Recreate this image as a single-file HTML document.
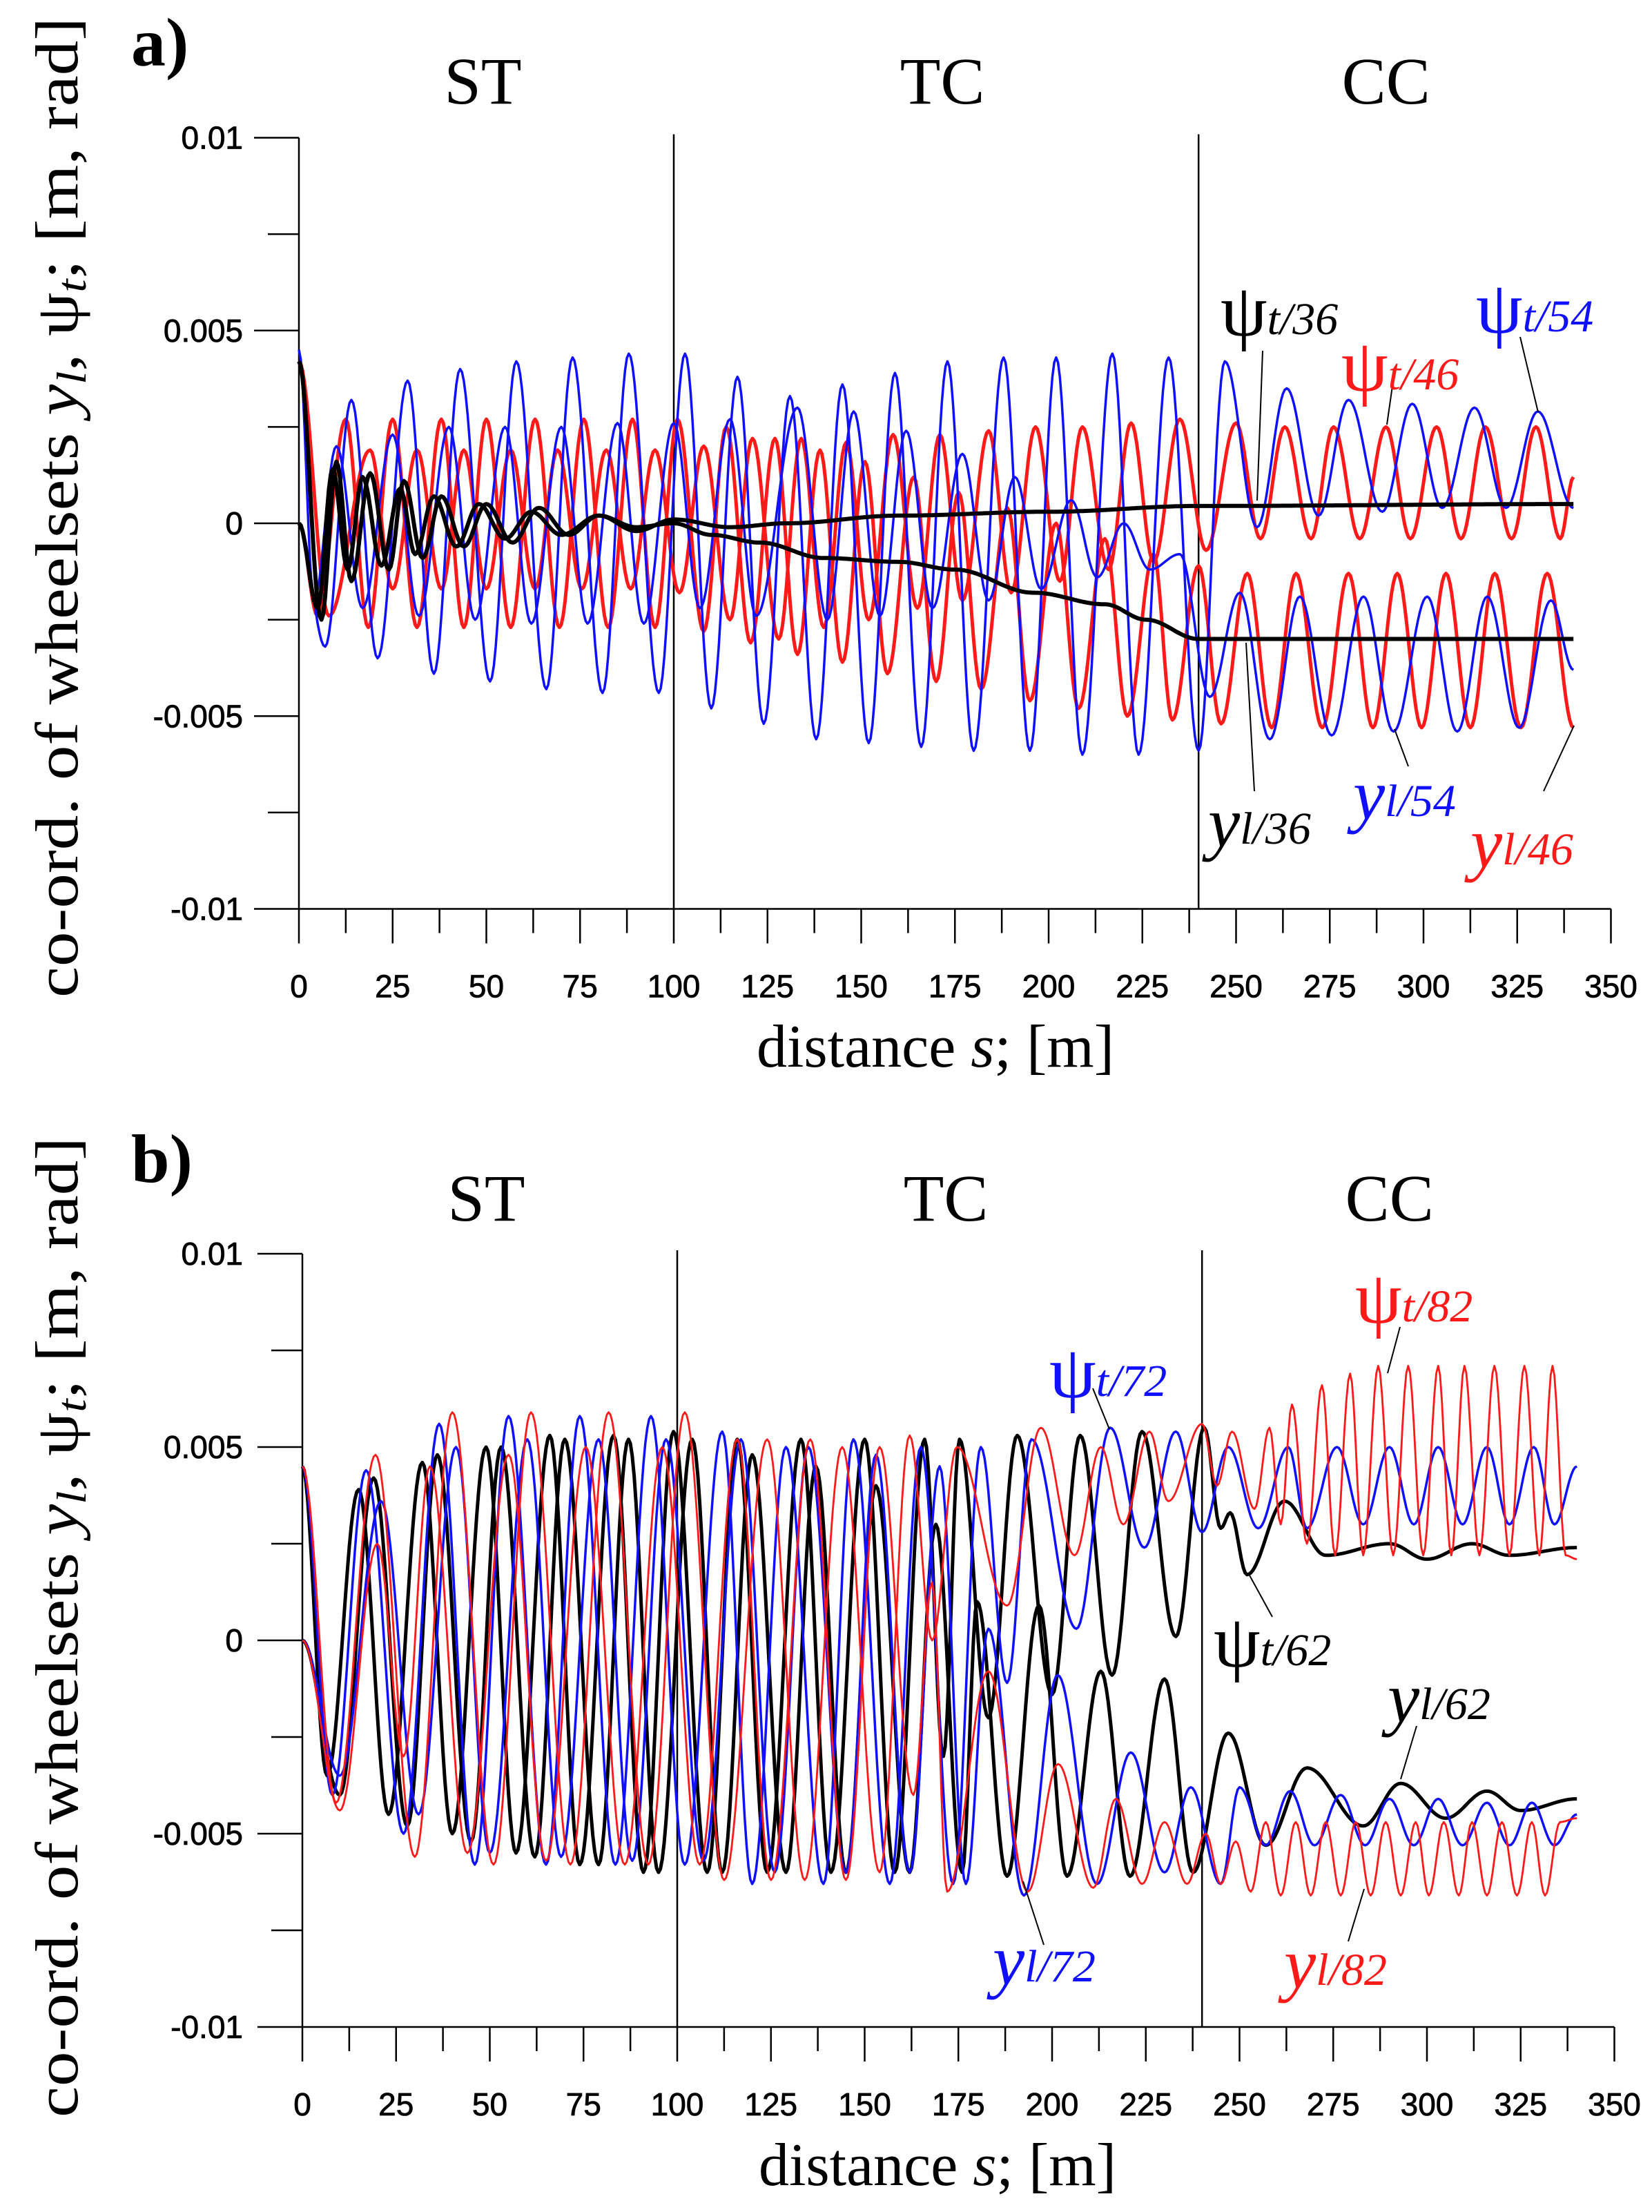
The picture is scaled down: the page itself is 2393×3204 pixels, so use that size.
<!DOCTYPE html>
<html><head><meta charset="utf-8"><style>
html,body{margin:0;padding:0;background:#fff;}
svg{display:block;}
</style></head><body>
<svg id="fig" xmlns="http://www.w3.org/2000/svg" width="2393" height="3204" viewBox="0 0 2393 3204">
<rect x="0" y="0" width="2393" height="3204" fill="#fff"/>
<g id="chartA"></g>
<g id="chartB"></g>
</svg>
<script>
// ---------- shared axis data ----------
const xTicks = [0,25,50,75,100,125,150,175,200,225,250,275,300,325,350];
const yTicks = [0.01,0.005,0,-0.005,-0.01];
const yTickLabels = ["0.01","0.005","0","-0.005","-0.01"];
const regionBounds = [100,240];
const regionNames = ["ST","TC","CC"];
const regionCenters = [50,170,290];

// ---------- chart a series (extrema: distance s, value) ----------
const a_psi54_s=[0,7,14,21,29,36,43,51,58,66,73,81,88,96,103,110,117,124,131,138,145,152,159,166,173,180,188,195,202,209,217,224,232,240,247,255.6,263.5,272,280,289,297,305,313.6,322,330.5,340];
const a_psi54_v=[0,-0.0032,0.0032,-0.0035,0.0037,-0.0039,0.004,-0.0041,0.0042,-0.0043,0.0043,-0.0044,0.0044,-0.0044,0.0044,-0.0048,0.0038,-0.0052,0.0033,-0.0056,0.0036,-0.0057,0.0039,-0.0058,0.0042,-0.0059,0.0043,-0.0059,0.0043,-0.006,0.0044,-0.006,0.0043,-0.0059,0.0042,-0.0001,0.0035,0.0002,0.0032,0.0003,0.0031,0.0004,0.003,0.0004,0.0029,0.0004];
const a_yl54_s=[0,4,10,17,25,32,40,47,55,62,70,77,85,92,100,107,115,122,133,141,148,155,162,169,177,184,191,198,206,213,220,227,235,243,251,259,267,275.5,284,292,301,309,317,325.5,334,340];
const a_yl54_v=[0.0045,-0.002,0.002,-0.0022,0.0023,-0.0024,0.0025,-0.0025,0.0025,-0.0026,0.0025,-0.0026,0.0026,-0.0026,0.0026,-0.0022,0.0027,-0.0024,0.003,-0.0025,0.0029,-0.0024,0.0024,-0.0022,0.0018,-0.002,0.0012,-0.0017,0.0006,-0.0014,0,-0.0012,-0.0008,-0.0045,-0.0018,-0.0056,-0.0019,-0.0055,-0.0019,-0.0054,-0.0019,-0.0054,-0.0019,-0.0053,-0.002,-0.0038];
const a_yl46_s=[0,5,12.5,18.5,25,31.5,38,44,50,56.5,63,69.5,76,82.5,89,95,101,108,114,120.5,127,133,139,145,151,157,164,170,176,182,189,195,202,208,215,221,228,233,240,246,253,259.5,266,273,280,286.5,293,299.5,306,312.5,319,326,333,340];
const a_yl46_v=[0,-0.0024,0.0027,-0.0027,0.0027,-0.0027,0.0027,-0.0027,0.0027,-0.0027,0.0027,-0.0027,0.0027,-0.0027,0.0027,-0.0027,0.0027,-0.0028,0.0025,-0.0031,0.0022,-0.0034,0.0019,-0.0036,0.0016,-0.0039,0.0012,-0.0041,0.0008,-0.0043,0.0004,-0.0046,0,-0.0048,-0.0004,-0.005,-0.0008,-0.0051,-0.0011,-0.0052,-0.0013,-0.0053,-0.0013,-0.0053,-0.0013,-0.0053,-0.0013,-0.0053,-0.0013,-0.0053,-0.0013,-0.0053,-0.0013,-0.0053];
const a_psi46_s=[0,8,19,25,31.5,38,44,50,56.5,63,69,75.5,82,88.5,95,101.5,108,115,121,128,134,140,146,152,158.5,165,171,177,184,190,196.5,203,209,216,222,228,235,242,250,256.5,263,270,276,283,290,296.5,303.5,310,316.5,323.5,330,336.5,340];
const a_psi46_v=[0.0042,-0.0024,0.0019,-0.0017,0.0019,-0.0017,0.0019,-0.0017,0.0019,-0.0017,0.0019,-0.0017,0.0019,-0.0017,0.0019,-0.0018,0.002,-0.0025,0.0022,-0.003,0.0022,-0.0027,0.0021,-0.0025,0.0023,-0.0022,0.0023,-0.002,0.0024,-0.0018,0.0025,-0.0015,0.0025,-0.0012,0.0026,-0.001,0.0027,-0.0007,0.0026,-0.0004,0.0025,-0.0004,0.0025,-0.0004,0.0025,-0.0004,0.0025,-0.0004,0.0025,-0.0004,0.0025,-0.0004,0.0012];
const a_psi36_s=[0,6,10,14,19,24,28,33,38,44,50,57,64,72,80,90,100,115,130,160,200,240,340];
const a_psi36_v=[0.0042,-0.0025,0.0016,-0.0015,0.0013,-0.0012,0.0011,-0.0009,0.0007,-0.0006,0.0005,-0.0005,0.0004,-0.0003,0.0002,-0.0002,0.0001,-0.0001,0,0.0002,0.0003,0.00045,0.0005];
const a_yl36_s=[0,5,9,13,17,22,27,31,36,42,48,55,62,70,80,90,100,110,123,140,160,175,196,215,226,240,340];
const a_yl36_v=[0,-0.0022,0.0014,-0.0012,0.0012,-0.0011,0.0009,-0.0008,0.0007,-0.0006,0.0005,-0.0004,0.0003,-0.0003,0.0002,-0.0001,0,-0.0003,-0.0005,-0.0009,-0.001,-0.0012,-0.0018,-0.0021,-0.0025,-0.003,-0.003];

// ---------- chart b series ----------
const b_psi82_s=[0,9,19.5,30,40,51,61,71.5,81.7,92.3,102,112.5,124,134,144,154,162,168,174.6,188,197,206,213,219,226,231,240,244,248,254,258,261,264,268,272,275.5,279.5,283,287,291,295,299,303,306.5,310,314,318,322,326,330,333.5,337,340];
const b_psi82_v=[0.0045,-0.0042,0.0048,-0.0056,0.0059,-0.0058,0.0059,-0.0058,0.0059,-0.0058,0.0059,-0.0062,0.0052,-0.0062,0.005,-0.006,0.0053,0,0.005,0.0009,0.0055,0.0022,0.005,0.003,0.0054,0.0036,0.0056,0.004,0.0054,0.0034,0.0055,0.003,0.0061,0.0025,0.0066,0.0022,0.0069,0.0022,0.0071,0.0022,0.0071,0.0022,0.0071,0.0022,0.0071,0.0022,0.0071,0.0022,0.0071,0.0022,0.0071,0.0022,0.0021];
const b_yl82_s=[0,10,20,27,34,44,55,65,75.6,86,96,106,116,125,135.5,145,154,163,168,172,183,193.5,201.6,211,217,224,230,236,241,245,249,253,257,261,265,269,273,277,281,285,289,293,297,300.5,304.5,308.5,312,316,320,324,328,331.5,335.5,340];
const b_yl82_v=[0,-0.0044,0.0025,-0.003,0.0045,-0.0055,0.0048,-0.0057,0.005,-0.0058,0.005,-0.0058,0.0052,-0.0062,0.0052,-0.0062,0.005,-0.004,0.0015,-0.0065,-0.0008,-0.0065,-0.0032,-0.0064,-0.0041,-0.0063,-0.0047,-0.0063,-0.005,-0.0063,-0.0052,-0.0065,-0.0047,-0.0066,-0.0047,-0.0066,-0.0047,-0.0066,-0.0047,-0.0066,-0.0047,-0.0066,-0.0047,-0.0066,-0.0047,-0.0066,-0.0047,-0.0066,-0.0047,-0.0066,-0.0047,-0.0066,-0.0047,-0.0046];
const b_psi72_s=[0,8,17,27,36.5,46,55,65,74,83.5,93,102,112,120,129,139,147,156.7,165,173.6,181,188,194.5,206.5,215.5,224.6,233,240,247,255,263,268,276,283,290,296.5,303,309.5,316,322,328.5,334,340];
const b_psi72_v=[0.0045,-0.004,0.0044,-0.005,0.0056,-0.0058,0.0058,-0.0058,0.0058,-0.0058,0.0058,-0.0058,0.0054,-0.0063,0.005,-0.0063,0.0052,-0.0063,0.005,-0.0063,0.005,-0.0011,0.0052,0.0003,0.0055,0.0024,0.0054,0.0028,0.005,0.0029,0.005,0.0029,0.005,0.003,0.005,0.003,0.005,0.003,0.005,0.003,0.005,0.003,0.0045];
const b_yl72_s=[0,10,21,31,41,50,60,69,79,88,97,107,117,126,135,145,153,162,170,177,183,192.5,201.5,212,221,230,237,245,250,257,263.5,270,277,283.5,290,296.5,303,309.5,316,322,328,334,340];
const b_yl72_v=[0,-0.0035,0.0036,-0.0045,0.005,-0.0055,0.0052,-0.0056,0.0052,-0.0057,0.0052,-0.0057,0.0052,-0.006,0.005,-0.006,0.0048,-0.006,0.0045,-0.0063,0.0003,-0.0066,-0.0009,-0.0063,-0.0029,-0.006,-0.0038,-0.0063,-0.0038,-0.0053,-0.0039,-0.0053,-0.004,-0.0053,-0.0041,-0.0053,-0.0041,-0.0053,-0.0042,-0.0053,-0.0042,-0.0053,-0.0045];
const b_psi62_s=[0,6.6,15,23,32,40,49,57,66,74,83,91,99,108,116,124,133,141,150,158,166,171,175.3,183,190.7,200,207.5,216,224,233,240.6,245,247.5,252,262,273,290,300,312,322,340];
const b_psi62_v=[0.0045,-0.0035,0.0039,-0.0045,0.0046,-0.005,0.005,-0.0055,0.0053,-0.0058,0.0053,-0.006,0.0054,-0.006,0.0052,-0.006,0.0052,-0.006,0.0052,-0.006,0.0052,-0.003,0.0052,-0.002,0.0053,-0.0014,0.0053,-0.0009,0.0054,0.0001,0.0055,0.0029,0.0033,0.0017,0.0036,0.0022,0.0025,0.0021,0.0025,0.0022,0.0024];
const b_yl62_s=[0,10,19,28,36,45,53,62,70,79,87,95,104,112,120,129,137,145,153,162,169,176,180,188,196.5,204,213,220.8,230,237.6,247,257,268,283,293,305,316,325,340];
const b_yl62_v=[0,-0.004,0.0042,-0.0048,0.0048,-0.0052,0.005,-0.0056,0.0052,-0.0058,0.0052,-0.006,0.0052,-0.006,0.0048,-0.006,0.0045,-0.006,0.004,-0.006,0.003,-0.006,0.001,-0.0061,0.0009,-0.0061,-0.0008,-0.0061,-0.001,-0.006,-0.0024,-0.0053,-0.0033,-0.0048,-0.0037,-0.0046,-0.0039,-0.0044,-0.0041];

const NS="http://www.w3.org/2000/svg";
function mk(tag, parent){ const e=document.createElementNS(NS,tag); parent.appendChild(e); return e; }

function buildChart(g, cfg, series, labels, leaders){
  const X = s => cfg.x0 + s*cfg.pxPerM;
  const Y = v => cfg.y0 - v*cfg.pxPerUnit;
  const yTop=Y(0.01), yBot=Y(-0.01);
  let t=mk('text',g);
  
  
  t.setAttribute('x',cfg.panelX); t.setAttribute('y',cfg.panelY);
  t.setAttribute('font-family','Liberation Serif, serif'); t.setAttribute('font-weight','bold'); t.setAttribute('font-size','100');
  t.textContent=cfg.panel;
  regionNames.forEach((n,i)=>{
    const r=mk('text',g);
    
    
    r.setAttribute('x',X(regionCenters[i])+cfg.regionDx[i]); r.setAttribute('y',cfg.regionY);
    r.setAttribute('text-anchor','middle'); r.setAttribute('font-family','Liberation Serif, serif'); r.setAttribute('font-size','96');
    r.textContent=n;
  });
  const yt=mk('text',g);
  
  
  yt.setAttribute('transform','translate(112,'+cfg.yTitleY+') rotate(-90)');
  yt.setAttribute('text-anchor','middle'); yt.setAttribute('font-family','Liberation Serif, serif'); yt.setAttribute('font-size','88');
  yt.setAttribute('textLength','1420'); yt.setAttribute('lengthAdjust','spacingAndGlyphs');
  yt.innerHTML='co-ord. of wheelsets <tspan font-style="italic">y</tspan><tspan font-style="italic" font-size="60" dy="12">l</tspan><tspan dy="-12">, ψ</tspan><tspan font-style="italic" font-size="60" dy="12">t</tspan><tspan dy="-12">; [m, rad]</tspan>';
  const xt=mk('text',g);
  
  
  xt.setAttribute('x',cfg.xTitleX); xt.setAttribute('y',cfg.xTitleY);
  xt.setAttribute('text-anchor','middle'); xt.setAttribute('font-family','Liberation Serif, serif'); xt.setAttribute('font-size','88');
  xt.innerHTML='distance <tspan font-style="italic">s</tspan>; [m]';
  const ax=mk('path',g);
  
  
  let d='M'+X(0)+','+yTop+' L'+X(0)+','+yBot+' M'+(X(0)-65)+','+yBot+' L'+X(350)+','+yBot;
  for(let k=-4;k<=4;k++){ const v=k*0.0025; const major=(k%2===0); d+=' M'+(X(0)-(major?65:45))+','+Y(v)+' L'+X(0)+','+Y(v); }
  for(let s=0;s<=350;s+=12.5){ const major=(s%25===0); d+=' M'+X(s)+','+yBot+' L'+X(s)+','+(yBot+(major?50:35)); }
  regionBounds.forEach(b=>{ d+=' M'+X(b)+','+(yTop-5)+' L'+X(b)+','+yBot; });
  ax.setAttribute('d',d); ax.setAttribute('stroke','#000'); ax.setAttribute('stroke-width','2.5'); ax.setAttribute('fill','none');
  yTicks.forEach((v,i)=>{
    const l=mk('text',g);
    
    
    l.setAttribute('x',352); l.setAttribute('y',Y(v)+16);
    l.setAttribute('text-anchor','end'); l.setAttribute('font-family','Liberation Sans, sans-serif'); l.setAttribute('font-size','46');
    l.setAttribute('stroke','#000'); l.setAttribute('stroke-width','0.8');
    l.textContent=yTickLabels[i];
  });
  xTicks.forEach(s=>{
    const l=mk('text',g);
    
    
    l.setAttribute('x',X(s)); l.setAttribute('y',yBot+128);
    l.setAttribute('text-anchor','middle'); l.setAttribute('font-family','Liberation Sans, sans-serif'); l.setAttribute('font-size','46');
    l.setAttribute('stroke','#000'); l.setAttribute('stroke-width','0.8');
    l.textContent=String(s);
  });
  series.forEach(sr=>{
    const S=sr.s, V=sr.v;
    let pd='';
    for(let i=0;i<S.length-1;i++){
      const s0=S[i], s1=S[i+1], v0=V[i], v1=V[i+1];
      const n=Math.max(4,Math.ceil((s1-s0)*2));
      for(let j=(i===0?0:1);j<=n;j++){
        const t=j/n; const s=s0+(s1-s0)*t; const v=v0+(v1-v0)*(1-Math.cos(Math.PI*t))/2;
        pd+=(pd===''?'M':'L')+X(s).toFixed(1)+','+Y(v).toFixed(1)+' ';
      }
    }
    const p=mk('path',g);
    
    
    p.setAttribute('d',pd); p.setAttribute('fill','none'); p.setAttribute('stroke',sr.color);
    p.setAttribute('stroke-width',sr.w); p.setAttribute('stroke-linejoin','round');
  });
  leaders.forEach(L=>{
    const l=mk('line',g);
    
    
    l.setAttribute('x1',L[0]); l.setAttribute('y1',L[1]); l.setAttribute('x2',L[2]); l.setAttribute('y2',L[3]);
    l.setAttribute('stroke','#000'); l.setAttribute('stroke-width','2');
  });
  labels.forEach(L=>{
    const l=mk('text',g);
    
    
    l.setAttribute('x',L.x); l.setAttribute('y',L.y); l.setAttribute('fill',L.color);
    l.setAttribute('font-family','Liberation Serif, serif');
    if(L.psi){
      l.innerHTML='<tspan font-size="108">ψ</tspan><tspan font-style="italic" font-size="66" dy="-2">t/'+L.sub+'</tspan>';
    } else {
      l.innerHTML='<tspan font-style="italic" font-size="104">y</tspan><tspan font-style="italic" font-size="66" dy="-4">l/'+L.sub+'</tspan>';
    }
  });
}

const RED='#ff1a1a', BLUE='#1010ff', BLACK='#000';
buildChart(document.getElementById('chartA'),
  {x0:433,pxPerM:5.43,y0:758,pxPerUnit:55850,panel:'a)',panelX:190,panelY:95,regionY:150,regionDx:[-5,9,0],yTitleY:735,xTitleX:1355,xTitleY:1545},
  [
    {name:'series-yl46',s:a_yl46_s,v:a_yl46_v,color:RED,w:5},
    {name:'series-psi46',s:a_psi46_s,v:a_psi46_v,color:RED,w:5},
    {name:'series-psi54',s:a_psi54_s,v:a_psi54_v,color:BLUE,w:3.5},
    {name:'series-yl54',s:a_yl54_s,v:a_yl54_v,color:BLUE,w:3.5},
    {name:'series-psi36',s:a_psi36_s,v:a_psi36_v,color:BLACK,w:6},
    {name:'series-yl36',s:a_yl36_s,v:a_yl36_v,color:BLACK,w:6}
  ],
  [
    {name:'label-psi36',x:1768,y:486,color:BLACK,psi:true,sub:'36'},
    {name:'label-psi46',x:1943,y:566,color:RED,psi:true,sub:'46'},
    {name:'label-psi54',x:2138,y:482,color:BLUE,psi:true,sub:'54'},
    {name:'label-yl36',x:1750,y:1226,color:BLACK,psi:false,sub:'36'},
    {name:'label-yl54',x:1960,y:1186,color:BLUE,psi:false,sub:'54'},
    {name:'label-yl46',x:2130,y:1256,color:RED,psi:false,sub:'46'}
  ],
  [[1829,508,1821,725],[2017,559,2009,615],[2202,488,2228,597],[1817,1146,1805,931],[2040,1110,2020,1056],[2236,1146,2280,1051]]
);
buildChart(document.getElementById('chartB'),
  {x0:438,pxPerM:5.43,y0:2376,pxPerUnit:56000,panel:'b)',panelX:190,panelY:1712,regionY:1768,regionDx:[-5,9,0],yTitleY:2357,xTitleX:1358,xTitleY:3165},
  [
    {name:'series-psi62',s:b_psi62_s,v:b_psi62_v,color:BLACK,w:5},
    {name:'series-yl62',s:b_yl62_s,v:b_yl62_v,color:BLACK,w:5},
    {name:'series-psi72',s:b_psi72_s,v:b_psi72_v,color:BLUE,w:3.5},
    {name:'series-yl72',s:b_yl72_s,v:b_yl72_v,color:BLUE,w:3.5},
    {name:'series-psi82',s:b_psi82_s,v:b_psi82_v,color:RED,w:2.8},
    {name:'series-yl82',s:b_yl82_s,v:b_yl82_v,color:RED,w:2.8}
  ],
  [
    {name:'label-psi72',x:1520,y:2024,color:BLUE,psi:true,sub:'72'},
    {name:'label-psi82',x:1963,y:1916,color:RED,psi:true,sub:'82'},
    {name:'label-psi62',x:1758,y:2414,color:BLACK,psi:true,sub:'62'},
    {name:'label-yl62',x:2010,y:2494,color:BLACK,psi:false,sub:'62'},
    {name:'label-yl72',x:1438,y:2874,color:BLUE,psi:false,sub:'72'},
    {name:'label-yl82',x:1860,y:2879,color:RED,psi:false,sub:'82'}
  ],
  [[1583,2011,1607,2070],[2028,1922,2010,1989],[1843,2342,1809,2280],[2052,2500,2029,2577],[1512,2817,1482,2725],[1953,2812,1976,2736]]
);
</script>
</body></html>
